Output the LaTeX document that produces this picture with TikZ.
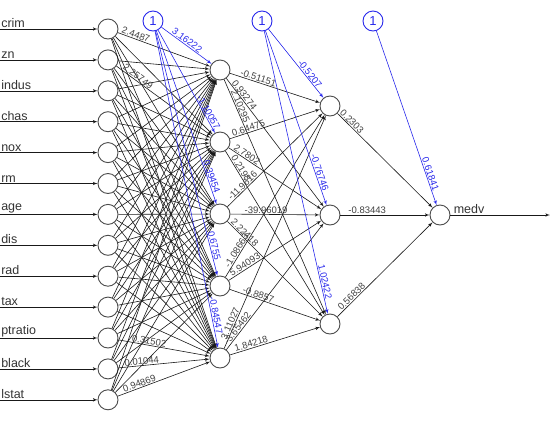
\documentclass[tikz,border=0pt]{standalone}
\usepackage{fontspec}
\setmainfont{Liberation Sans}
\usetikzlibrary{arrows}
\definecolor{biasblue}{RGB}{40,40,235}
\definecolor{nodegray}{RGB}{75,75,75}

\begin{document}
\begin{tikzpicture}[x=1pt,y=-1pt,>=latex',
    neuron/.style={circle,draw=nodegray,line width=0.9pt,minimum size=20pt,inner sep=0pt},
    biasnode/.style={neuron,draw=biasblue,text=biasblue,font=\fontsize{13}{13}\selectfont},
    conn/.style={->,line width=0.6pt,black!90},
    bconn/.style={->,line width=0.6pt,biasblue},
    wlabel/.style={sloped,above,inner sep=0.8pt,text=black!75,font=\fontsize{9.5}{9.5}\selectfont},
    blabel/.style={wlabel,text=biasblue},
    iname/.style={anchor=south west,inner sep=1pt,font=\fontsize{12.5}{12.5}\selectfont,text=black!80}]

    \useasboundingbox (0,0) rectangle (550,421);

    % input layer
    \foreach \name [count=\i] in {crim,zn,indus,chas,nox,rm,age,dis,rad,tax,ptratio,black,lstat} {
        \node[neuron] (I\i) at (108,{29+(\i-1)*30.9}) {};
        \coordinate (S\i) at (0,{29+(\i-1)*30.9});
        \draw[conn] (S\i) -- (I\i) node[iname,pos=0] {\name};
    }

    % hidden layers and output
    \foreach \j in {1,...,5}
        \node[neuron] (H\j) at (220,{70+(\j-1)*72}) {};
    \foreach \k/\yy in {1/106,2/215,3/324}
        \node[neuron] (G\k) at (330,\yy) {};
    \node[neuron] (O) at (440,215) {};
    \coordinate (E) at (550,215);
    \draw[conn] (O) -- (E) node[iname,pos=0,xshift=2pt] {medv};

    % bias nodes
    \node[biasnode] (B1) at (153,21) {1};
    \node[biasnode] (B2) at (262,21) {1};
    \node[biasnode] (B3) at (373,21) {1};

    % input -> first hidden layer
    \foreach \i in {1,...,13}
        \foreach \j in {1,...,5}
            \draw[conn] (I\i) -- (H\j);
    \foreach \i/\j/\w/\p in {1/1/2.4487/0.18,2/2/2.25749/0.2,11/5/0.31502/0.33,12/5/0.01044/0.26,13/5/0.94869/0.25}
        \path (I\i) -- (H\j) node[wlabel,pos=\p] {\w};

    % first -> second hidden layer
    \foreach \j/\k/\w/\p in {1/1/-0.51151/0.3,1/2/0.93274/0.15,1/3/2.10295/0.12,
                             2/1/0.64475/0.22,2/2/2.7802/0.17,2/3/0.2198/0.12,
                             3/1/-11.9616/0.19,3/2/-39.96019/0.4,3/3/2.22418/0.15,
                             4/1/-1.08663/0.15,4/2/5.94093/0.2,4/3/-0.8857/0.3,
                             5/1/3.11027/0.1,5/2/-3.65462/0.15,5/3/1.84218/0.25}
        \draw[conn] (H\j) -- (G\k) node[wlabel,pos=\p] {\w};

    % second hidden layer -> output
    \foreach \k/\w/\p in {1/0.2303/0.12,2/-0.83443/0.3,3/0.56838/0.18}
        \draw[conn] (G\k) -- (O) node[wlabel,pos=\p] {\w};

    % bias connections
    \foreach \j/\w/\p in {1/3.16222/0.46,2/-1.10057/0.82,3/0.39454/0.85,4/0.6755/0.88,5/-0.84547/0.9}
        \draw[bconn] (B1) -- (H\j) node[blabel,pos=\p] {\w};
    \foreach \k/\w/\p in {1/-0.5207/0.69,2/-0.76746/0.82,3/1.02422/0.89}
        \draw[bconn] (B2) -- (G\k) node[blabel,pos=\p] {\w};
    \draw[bconn] (B3) -- (O) node[blabel,pos=0.83] {0.61841};

\end{tikzpicture}
\end{document}
